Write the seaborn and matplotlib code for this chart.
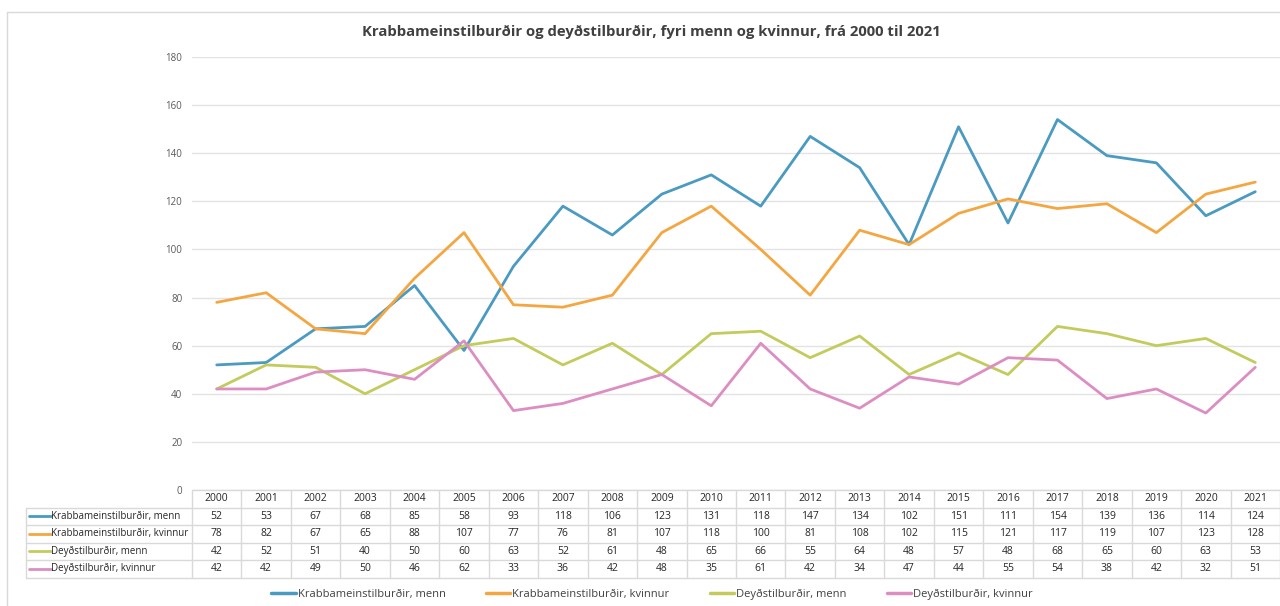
import matplotlib
matplotlib.use('Agg')
import matplotlib.pyplot as plt
import seaborn as sns
import pandas as pd
from matplotlib.lines import Line2D

years = list(range(2000, 2022))
series_names = ['Krabbameinstilburðir, menn', 'Krabbameinstilburðir, kvinnur',
                'Deyðstilburðir, menn', 'Deyðstilburðir, kvinnur']
krabb_menn = [52, 53, 67, 68, 85, 58, 93, 118, 106, 123, 131, 118, 147, 134, 102, 151, 111, 154, 139, 136, 114, 124]
krabb_kvinnur = [78, 82, 67, 65, 88, 107, 77, 76, 81, 107, 118, 100, 81, 108, 102, 115, 121, 117, 119, 107, 123, 128]
deyd_menn = [42, 52, 51, 40, 50, 60, 63, 52, 61, 48, 65, 66, 55, 64, 48, 57, 48, 68, 65, 60, 63, 53]
deyd_kvinnur = [42, 42, 49, 50, 46, 62, 33, 36, 42, 48, 35, 61, 42, 34, 47, 44, 55, 54, 38, 42, 32, 51]
colors = ['#4A9AC1', '#F4A641', '#C3CB5C', '#DC8EC2']

values = [krabb_menn, krabb_kvinnur, deyd_menn, deyd_kvinnur]
rows = []
for name, vals in zip(series_names, values):
    for i, v in enumerate(vals):
        rows.append({'pos': i, 'Year': years[i], 'Series': name, 'Value': v})
df = pd.DataFrame(rows)

sns.set_style('white')
plt.rcParams['font.family'] = ['Open Sans', 'DejaVu Sans']

fig = plt.figure(figsize=(12.8, 6.06), dpi=100)
W, H = 1280, 606
x0, x1 = 192, 1280
y0, y1 = 490, 57
ax = fig.add_axes([x0 / W, 1 - y0 / H, (x1 - x0) / W, (y0 - y1) / H])

sns.lineplot(data=df, x='pos', y='Value', hue='Series', hue_order=series_names,
             palette=colors, linewidth=2, ax=ax, legend=False)

ax.set_xlim(-0.5, 21.5)
ax.set_ylim(0, 180)
ax.set_yticks(range(0, 181, 20))
ax.tick_params(axis='y', labelsize=7, colors='#595959', length=0, pad=7)
ax.set_xticks([])
ax.set_xlabel('')
ax.set_ylabel('')
ax.grid(axis='y', color='#E3E3E3', linewidth=1)
for s in ax.spines.values():
    s.set_visible(False)

# data table under the plot
grid_c = '#D9D9D9'
row_h = 17.5 / (y0 - y1)  # in axes fraction
tr = ax.get_xaxis_transform()
fs = 7.5
txt_c = '#262626'
xl = -0.5 - 166 / 49.45
ax.plot([-0.5, 21.5], [0, 0], transform=tr, color=grid_c, lw=1, clip_on=False)
for k in range(1, 6):
    yy = -k * row_h
    ax.plot([xl, 21.5], [yy, yy], transform=tr, color=grid_c, lw=1, clip_on=False)
for j in range(23):
    ax.plot([j - 0.5, j - 0.5], [0, -5 * row_h], transform=tr, color=grid_c, lw=1, clip_on=False)
ax.plot([xl, xl], [-row_h, -5 * row_h], transform=tr, color=grid_c, lw=1, clip_on=False)
for i, yr in enumerate(years):
    ax.text(i, -0.5 * row_h, str(yr), transform=tr, ha='center', va='center', fontsize=fs, color=txt_c, clip_on=False)
for r, (name, vals, c) in enumerate(zip(series_names, values, colors)):
    yc = -(r + 1.5) * row_h
    ax.plot([xl + 0.06, xl + 0.5], [yc, yc], transform=tr, color=c, lw=2, clip_on=False)
    ax.text(xl + 0.51, yc, name, transform=tr, ha='left', va='center', fontsize=7, color=txt_c, clip_on=False)
    for i, v in enumerate(vals):
        ax.text(i, yc, str(v), transform=tr, ha='center', va='center', fontsize=fs, color=txt_c, clip_on=False)

# legend
handles = [Line2D([0], [0], color=c, lw=2.5) for c in colors]
fig.legend(handles, series_names, loc='center', bbox_to_anchor=(652 / W, 1 - 594 / H), ncol=4,
           frameon=False, fontsize=8, handlelength=2.2, handletextpad=0.2, columnspacing=3.6,
           labelcolor='#404040')

fig.suptitle('Krabbameinstilburðir og deyðstilburðir, fyri menn og kvinnur, frá 2000 til 2021',
             x=651 / W, y=1 - 32 / H, fontsize=10.7, fontweight='bold', color='#404040', va='center')

# chart border
fig.add_artist(Line2D([7 / W, 1], [1 - 12 / H, 1 - 12 / H], transform=fig.transFigure, color='#D9D9D9', lw=1))
fig.add_artist(Line2D([7 / W, 7 / W], [1 - 12 / H, 0], transform=fig.transFigure, color='#D9D9D9', lw=1))

fig.savefig('out.png', dpi=100)
